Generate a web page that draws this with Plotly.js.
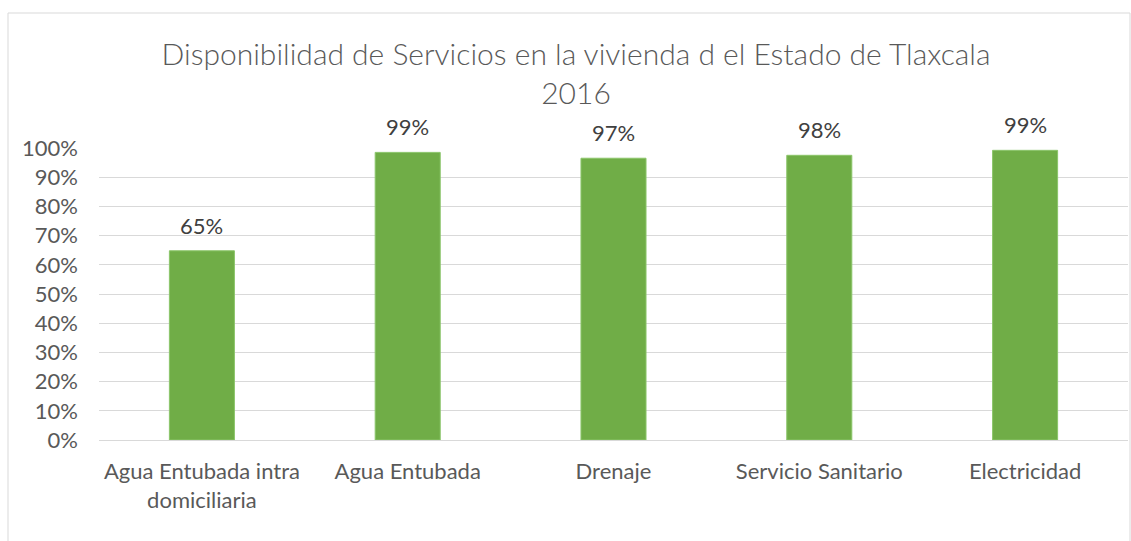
<!DOCTYPE html>
<html>
<head>
<meta charset="utf-8">
<script src="https://cdn.plot.ly/plotly-3.0.1.min.js"></script>
<style>html,body{margin:0;padding:0;background:#fff;}#chart{width:1131px;height:541px;}</style>
</head>
<body>
<div id="chart"></div>
<script>
const categories = ["Agua Entubada intra<br>domiciliaria", "Agua Entubada", "Drenaje", "Servicio Sanitario", "Electricidad"];
const values = [0.648, 0.985, 0.965, 0.975, 0.992];
const labels = ["65%", "99%", "97%", "98%", "99%"];
const yTickVals = [0, 0.1, 0.2, 0.3, 0.4, 0.5, 0.6, 0.7, 0.8, 0.9, 1.0];
const titleText = "Disponibilidad de Servicios en la vivienda d el Estado de Tlaxcala<br>2016";

const FONT = "Lato, 'Open Sans', sans-serif";

const trace = {
  type: 'bar',
  x: categories,
  y: values,
  marker: {color: '#70AD47', line: {color: '#8BC56A', width: 1}},
  hoverinfo: 'skip'
};

const annotations = categories.map((c, i) => ({
  x: c, y: values[i], xref: 'x', yref: 'y',
  text: labels[i], showarrow: false,
  yanchor: 'bottom', yshift: 10,
  font: {family: FONT, size: 22, color: '#404040'}
}));

const layout = {
  width: 1131, height: 541,
  margin: {l: 99, r: 3, t: 148, b: 101},
  paper_bgcolor: '#ffffff', plot_bgcolor: '#ffffff',
  showlegend: false,
  bargap: 0.684,
  title: {
    text: titleText,
    font: {family: FONT, size: 30, color: '#595959', weight: 300},
    x: 576 / 1131, xanchor: 'center', xref: 'container',
    y: 0.879, yanchor: 'top', yref: 'container'
  },
  xaxis: {
    type: 'category',
    showgrid: false, zeroline: false, showline: false,
    ticks: '', ticklabelstandoff: 16,
    tickfont: {family: FONT, size: 22, color: '#595959'},
    fixedrange: true
  },
  yaxis: {
    range: [0, 1],
    tickvals: yTickVals, tickformat: '.0%',
    showgrid: true, gridcolor: '#d9d9d9', gridwidth: 1,
    zeroline: true, zerolinecolor: '#d9d9d9', zerolinewidth: 1,
    showline: false, ticks: '', ticklabelstandoff: 20,
    tickfont: {family: FONT, size: 22, color: '#595959'},
    fixedrange: true
  },
  annotations: annotations,
  shapes: [{
    type: 'rect', xref: 'paper', yref: 'paper',
    x0: (8 - 99) / 1029, x1: (1130 - 99) / 1029,
    y0: (440 - 560) / 292, y1: (440 - 13) / 292,
    line: {color: '#d9d9d9', width: 1}, fillcolor: 'rgba(0,0,0,0)', layer: 'below'
  }]
};

Plotly.newPlot('chart', [trace], layout, {displayModeBar: false, staticPlot: true});
</script>
</body>
</html>
